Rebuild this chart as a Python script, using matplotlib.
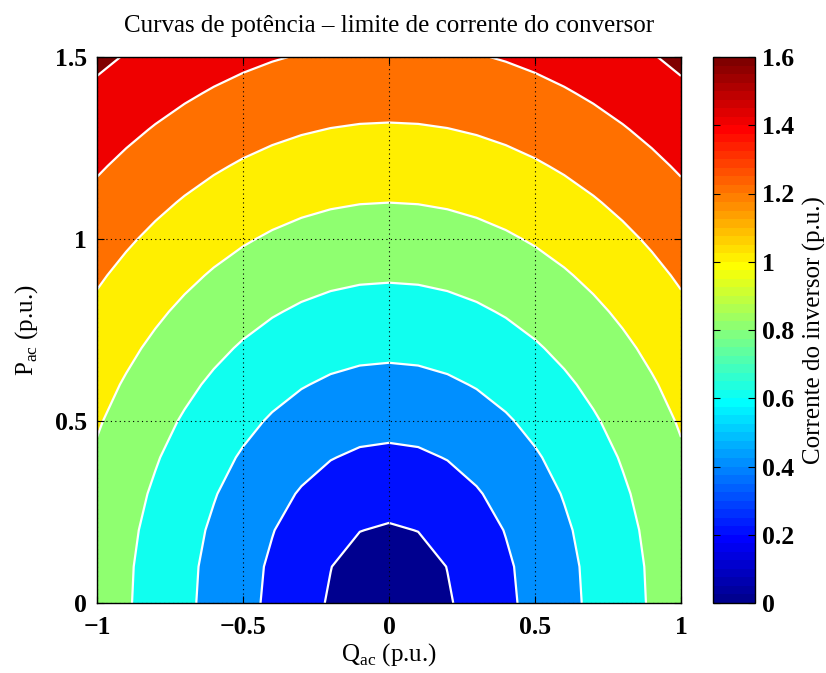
import numpy as np
import matplotlib
matplotlib.use("Agg")
import matplotlib.pyplot as plt
from matplotlib.colors import ListedColormap, Normalize
from matplotlib.cm import ScalarMappable

# grid of reactive / active power (p.u.), step 0.1
q_vals = np.round(np.arange(-1.0, 1.0001, 0.1), 2)
p_vals = np.round(np.arange(0.0, 1.5001, 0.1), 2)
v_conv = 1.1  # converter voltage (p.u.)

levels = [0.0, 0.2, 0.4, 0.6, 0.8, 1.0, 1.2, 1.4, 1.6]
cb_ticks = [0, 0.2, 0.4, 0.6, 0.8, 1.0, 1.2, 1.4, 1.6]
cb_labels = ["0", "0.2", "0.4", "0.6", "0.8", "1", "1.2", "1.4", "1.6"]
x_ticks = [-1, -0.5, 0, 0.5, 1]
x_labels = ["\u22121", "\u22120.5", "0", "0.5", "1"]
y_ticks = [0, 0.5, 1, 1.5]
y_labels = ["0", "0.5", "1", "1.5"]


def matlab_jet(m=64):
    n = int(np.ceil(m / 4))
    u = np.concatenate([np.arange(1, n + 1) / n, np.ones(n - 1), np.arange(n, 0, -1) / n])
    g = int(np.ceil(n / 2)) - (1 if m % 4 == 1 else 0) + np.arange(1, len(u) + 1)
    r = g + n
    b = g - n
    J = np.zeros((m, 3))
    for col, idx in ((0, r), (1, g), (2, b)):
        ok = (idx >= 1) & (idx <= m)
        J[idx[ok] - 1, col] = u[ok]
    return J


jet = matlab_jet(64)
cmin, cmax = 0.0, 1.6

Q, P = np.meshgrid(q_vals, p_vals)
I = np.sqrt(P ** 2 + Q ** 2) / v_conv

fill_levels = levels + [max(I.max(), 1.61) + 0.01]
fill_colors = []
for v in levels:
    k = min(int(np.floor((v - cmin) / (cmax - cmin) * 64 + 1e-9)), 63)
    fill_colors.append(jet[k])

plt.rcParams["font.family"] = ["Liberation Serif", "DejaVu Serif"]
plt.rcParams["mathtext.fontset"] = "custom"
plt.rcParams["mathtext.rm"] = "Liberation Serif"

fig = plt.figure(figsize=(8.26, 6.73), dpi=100)
ax = fig.add_axes([97 / 826, 70 / 673, 584 / 826, 546 / 673])

ax.contourf(Q, P, I, levels=fill_levels, colors=fill_colors)
ax.contour(Q, P, I, levels=levels[1:], colors="white", linewidths=1.6)

ax.set_xlim(-1, 1)
ax.set_ylim(0, 1.5)
ax.set_xticks(x_ticks)
ax.set_xticklabels(x_labels, fontsize=18.5, fontweight="bold")
ax.set_yticks(y_ticks)
ax.set_yticklabels(y_labels, fontsize=18.5, fontweight="bold")
ax.tick_params(direction="in", top=True, right=True, length=5, width=0.8)
ax.tick_params(axis="x", pad=9)
ax.tick_params(axis="y", pad=7)
ax.grid(True, color="black", linestyle=(0, (1, 3)), linewidth=0.8)
ax.set_axisbelow(False)
for s in ax.spines.values():
    s.set_linewidth(1.0)
    s.set_zorder(5)

ax.set_title("Curvas de pot\u00eancia \u2013 limite de corrente do conversor", fontsize=18, pad=18)
ax.set_xlabel("Q$_{\\mathregular{ac}}$ (p.u.)", fontsize=18, labelpad=2)
ax.set_ylabel("P$_{\\mathregular{ac}}$ (p.u.)", fontsize=18, labelpad=11)

cax = fig.add_axes([713 / 826, 70 / 673, 42 / 826, 546 / 673])
sm = ScalarMappable(norm=Normalize(cmin, cmax), cmap=ListedColormap(jet))
cb = fig.colorbar(sm, cax=cax, ticks=cb_ticks)
cb.ax.set_yticklabels(cb_labels, fontsize=18.5, fontweight="bold")
cb.ax.tick_params(direction="in", left=True, right=True, length=5, width=0.8, pad=5)
cb.outline.set_linewidth(1.0)
cb.set_label("Corrente do inversor (p.u.)", fontsize=18, labelpad=6)

fig.savefig("out.png", dpi=100)
